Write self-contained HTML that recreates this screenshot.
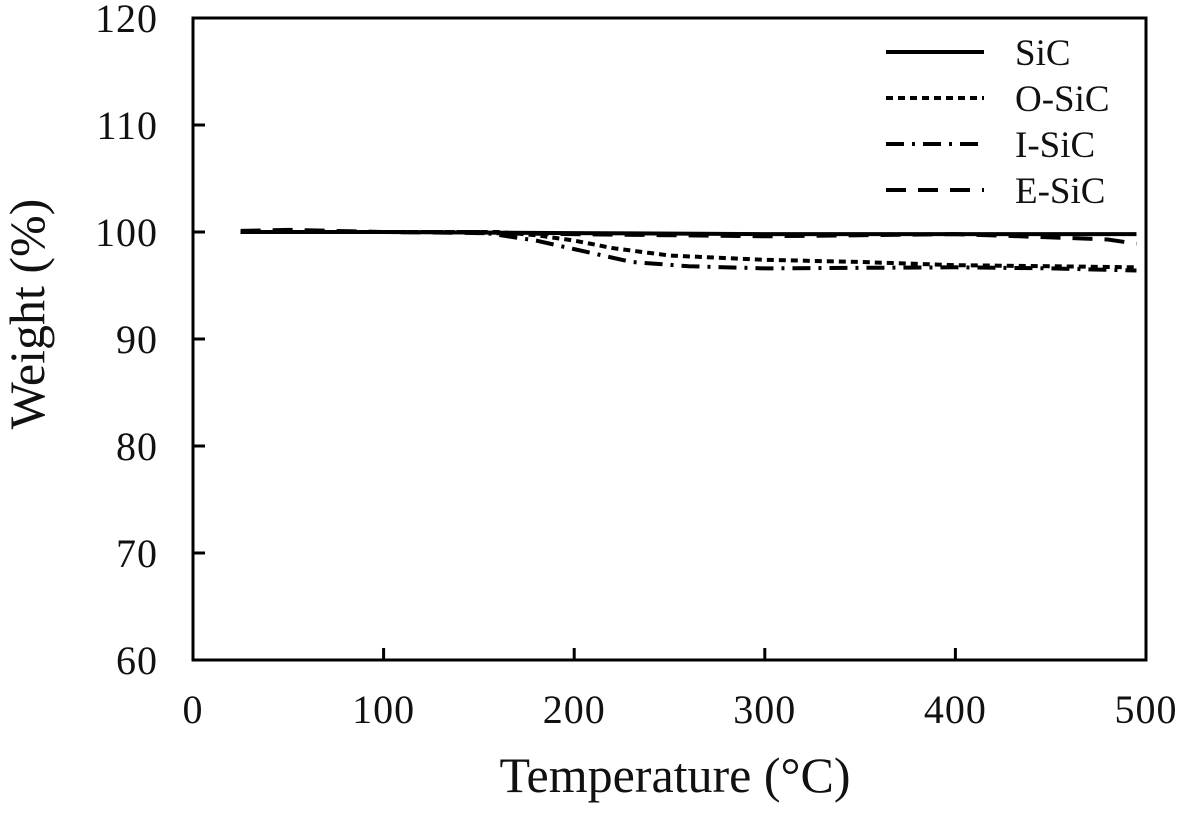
<!DOCTYPE html>
<html><head><meta charset="utf-8"><style>
html,body{margin:0;padding:0;background:#fff}
svg text{font-family:"Liberation Serif",serif;fill:#111}
</style></head><body>
<svg id="chart" width="1181" height="810" viewBox="0 0 1181 810" xmlns="http://www.w3.org/2000/svg"></svg>
<script>
const xTicks=[0,100,200,300,400,500];
const yTicks=[60,70,80,90,100,110,120];
const seriesNames=["SiC","O-SiC","I-SiC","E-SiC"];
const sicT=[25,100,200,300,400,495];
const sicW=[100,100,99.9,99.8,99.8,99.8];
const osicT=[25,160,180,200,220,250,300,350,400,450,495];
const osicW=[100,100,99.7,99.2,98.5,97.8,97.4,97.2,96.9,96.8,96.7];
const isicT=[25,150,180,200,230,260,300,400,450,495];
const isicW=[100,100,99.2,98.4,97.2,96.8,96.6,96.7,96.6,96.4];
const esicT=[25,50,100,150,200,300,400,450,480,495];
const esicW=[100.1,100.2,100,99.9,99.8,99.6,99.8,99.5,99.3,98.9];

const L=193,R=1146,T=18,B=660;
const xs=v=>L+(v-0)/500*(R-L);
const ys=v=>B-(v-60)/60*(B-T);
const svg=document.getElementById('chart');
const NS="http://www.w3.org/2000/svg";
function mk(tag,attrs,parent){const e=document.createElementNS(NS,tag);for(const k in attrs)e.setAttribute(k,attrs[k]);(parent||svg).appendChild(e);return e;}

const frame=mk('rect',{x:L,y:T,width:R-L,height:B-T,fill:'none',stroke:'#000','stroke-width':3});



xTicks.forEach(t=>{
  const ln=mk('line',{x1:xs(t),x2:xs(t),y1:B,y2:B-12,stroke:'#000','stroke-width':3});
  
  
  const tx=mk('text',{x:xs(t),y:B+63,'text-anchor':'middle','font-size':40,'letter-spacing':1});
  tx.textContent=t;
  
  
});
yTicks.forEach(t=>{
  const ln=mk('line',{x1:L,x2:L+12,y1:ys(t),y2:ys(t),stroke:'#000','stroke-width':3});
  
  
  const tx=mk('text',{x:158,y:ys(t)+14,'text-anchor':'end','font-size':40,'letter-spacing':1});
  tx.textContent=t;
  
  
});
const xt=mk('text',{x:675,y:792,'text-anchor':'middle','font-size':50});
xt.textContent='Temperature (°C)';


const yt=mk('text',{x:0,y:0,'text-anchor':'middle','font-size':50,transform:'translate(44,314) rotate(-90)'});
yt.textContent='Weight (%)';



const styles=[{d:'none'},{d:'7 5'},{d:'18 8 3 8'},{d:'20 12'}];
const data=[[sicT,sicW],[osicT,osicW],[isicT,isicW],[esicT,esicW]];
data.forEach((s,i)=>{
  const pts=s[0].map((t,j)=>xs(t)+','+ys(s[1][j])).join(' ');
  const pl=mk('polyline',{points:pts,fill:'none',stroke:'#000','stroke-width':4,'stroke-dasharray':styles[i].d});
  
  
});
seriesNames.forEach((n,i)=>{
  const y=52+i*46;
  const ln=mk('line',{x1:886,x2:984,y1:y,y2:y,stroke:'#000','stroke-width':4,'stroke-dasharray':styles[i].d});
  
  
  const tx=mk('text',{x:1015,y:y+13,'font-size':37});
  tx.textContent=n;
  
  
});
</script>
</body></html>
